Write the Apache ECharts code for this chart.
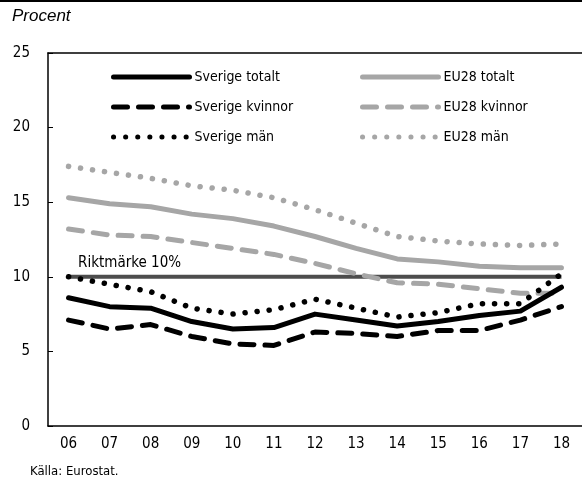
<!DOCTYPE html>
<html>
<head>
<meta charset="utf-8">
<script src="https://cdn.jsdelivr.net/npm/echarts@6/dist/echarts.min.js"></script>
<style>
html,body{margin:0;padding:0;background:#fff;}
#c{width:582px;height:481px;}
</style>
</head>
<body>
<div id="c"></div>
<script>
var years = ['06','07','08','09','10','11','12','13','14','15','16','17','18'];
var sverigeTotalt  = [8.6, 8.0, 7.9, 7.0, 6.5, 6.6, 7.5, 7.1, 6.7, 7.0, 7.4, 7.7, 9.3];
var sverigeKvinnor = [7.1, 6.5, 6.8, 6.0, 5.5, 5.4, 6.3, 6.2, 6.0, 6.4, 6.4, 7.1, 8.0];
var sverigeMan     = [10.0, 9.5, 9.0, 7.9, 7.5, 7.8, 8.5, 7.9, 7.3, 7.6, 8.2, 8.2, 10.2];
var eu28Totalt     = [15.3, 14.9, 14.7, 14.2, 13.9, 13.4, 12.7, 11.9, 11.2, 11.0, 10.7, 10.6, 10.6];
var eu28Kvinnor    = [13.2, 12.8, 12.7, 12.3, 11.9, 11.5, 10.9, 10.2, 9.6, 9.5, 9.2, 8.9, 8.9];
var eu28Man        = [17.4, 17.0, 16.6, 16.1, 15.8, 15.3, 14.5, 13.6, 12.7, 12.4, 12.2, 12.1, 12.2];
var target = 10;
var targetLabel = 'Riktmärke 10%';
var yTicks = [0, 5, 10, 15, 20, 25];

var FONT = '"DejaVu Sans Condensed","Liberation Sans Narrow","Arial Narrow",sans-serif';
var BLACK = '#000000', GRAY = '#a6a6a6';

function ser(name, data, color, type) {
  var ls = {color: color, width: 5, cap: 'round', join: 'round'};
  if (type === 'dash') { ls.type = [14, 11]; }
  if (type === 'dot') { ls.type = [0.1, 12]; ls.width = 5.5; }
  return {name: name, type: 'line', data: data, symbol: 'none', color: color,
          lineStyle: ls, z: 3, xAxisIndex: 0, yAxisIndex: 0};
}

var targetData = years.map(function(){ return target; });
targetData[0] = {value: target, label: {show: true, formatter: targetLabel,
  position: [10, -21], fontFamily: FONT, fontSize: 15, color: '#000'}};

var legendCommon = {orient: 'vertical', top: 65, itemWidth: 76, itemHeight: 14, itemGap: 16,
  textStyle: {fontFamily: FONT, fontSize: 14, color: '#000'}, selectedMode: false,
  itemStyle: {opacity: 0, borderWidth: 0}, lineStyle: {width: 5, cap: 'round'}};

var chart = echarts.init(document.getElementById('c'), null, {renderer: 'canvas'});
chart.setOption({
  animation: false,
  backgroundColor: '#fff',
  grid: {left: 48, right: -5.5, top: 53, bottom: 55, containLabel: false},
  graphic: [
    {type: 'rect', left: 0, top: 0, shape: {width: 582, height: 2}, style: {fill: '#000'}},
    {type: 'text', left: 12, top: 8, style: {text: 'Procent', fontFamily: '"Liberation Sans",Arial,sans-serif', fontStyle: 'italic', fontSize: 17, fill: '#000'}},
    {type: 'text', left: 30, top: 465, style: {text: 'Källa: Eurostat.', fontFamily: FONT, fontSize: 13, fill: '#000'}}
  ],
  legend: [
    Object.assign({data: ['Sverige totalt','Sverige kvinnor','Sverige män'], left: 106}, legendCommon),
    Object.assign({data: ['EU28 totalt','EU28 kvinnor','EU28 män'], left: 355}, legendCommon)
  ],
  xAxis: [
    {type: 'category', data: years, position: 'bottom', boundaryGap: true,
     axisLine: {lineStyle: {color: '#000', width: 1.5}},
     axisTick: {inside: true, length: 6, lineStyle: {color: '#000'}},
     axisLabel: {margin: 11, fontFamily: FONT, fontSize: 15, color: '#000'},
     splitLine: {show: false}},
    {type: 'category', data: years, position: 'bottom', offset: 0, boundaryGap: true,
     axisLine: {show: false},
     axisTick: {inside: false, length: 6, lineStyle: {color: '#000'}},
     axisLabel: {show: false}, splitLine: {show: false}},
    {type: 'category', data: years, position: 'top', boundaryGap: true,
     axisLine: {lineStyle: {color: '#000', width: 1.5}},
     axisTick: {show: false}, axisLabel: {show: false}, splitLine: {show: false}}
  ],
  yAxis: {type: 'value', min: yTicks[0], max: yTicks[yTicks.length-1], interval: 5,
    axisLine: {show: true, lineStyle: {color: '#000', width: 1.5}},
    axisTick: {show: true, inside: true, length: 5, lineStyle: {color: '#000'}},
    axisLabel: {margin: 18, fontFamily: FONT, fontSize: 15, color: '#000'},
    splitLine: {show: false}},
  series: [
    {name: 'Riktmärke', type: 'line', data: targetData, symbol: 'circle', symbolSize: 1,
     showSymbol: true, z: 2, itemStyle: {color: 'rgba(0,0,0,0)'},
     lineStyle: {color: '#4d4d4d', width: 4}, color: '#4d4d4d'},
    ser('EU28 totalt', eu28Totalt, GRAY, 'solid'),
    ser('EU28 kvinnor', eu28Kvinnor, GRAY, 'dash'),
    ser('EU28 män', eu28Man, GRAY, 'dot'),
    ser('Sverige totalt', sverigeTotalt, BLACK, 'solid'),
    ser('Sverige kvinnor', sverigeKvinnor, BLACK, 'dash'),
    ser('Sverige män', sverigeMan, BLACK, 'dot')
  ]
});
</script>
</body>
</html>
